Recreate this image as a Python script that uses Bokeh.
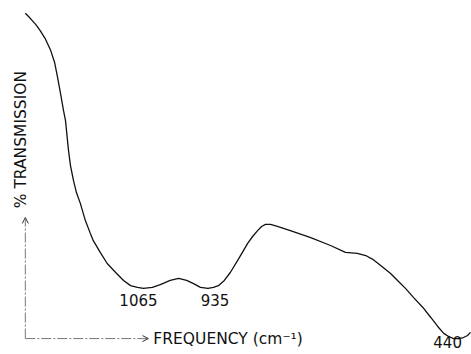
import numpy as np
from bokeh.plotting import figure
from bokeh.models import Range1d, Arrow, OpenHead, ColumnDataSource, Label
from bokeh.core.properties import value
from bokeh.embed import file_html
from bokeh.resources import INLINE

# Frequency (cm^-1) and % transmission (arbitrary scale)
freq = [1303, 1296, 1289, 1281, 1273, 1263, 1252, 1244, 1238, 1232, 1226, 1222,
        1216, 1212, 1206, 1200, 1192, 1182, 1172, 1166, 1152, 1138, 1121, 1105,
        1091, 1077, 1065, 1047, 1031, 1011, 994, 978, 964, 950, 935, 924, 914,
        902, 890, 873, 855, 845, 835, 827, 819, 809, 795, 769, 728, 688, 658,
        634, 617, 603, 587, 567, 553, 537, 521, 502, 486, 472, 460, 450, 440,
        430, 420, 412, 406]
trans = [98.6, 97.6, 96.5, 95.2, 93.6, 91.3, 87.9, 84.4, 80.1, 75.4, 70.5, 67.6,
         59.0, 54.6, 50.3, 46.8, 43.6, 38.7, 35.0, 32.9, 29.5, 26.3, 23.7, 21.4,
         19.9, 19.4, 19.1, 19.4, 20.2, 21.4, 22.0, 21.4, 20.5, 19.4, 19.1, 19.4,
         19.9, 21.4, 23.7, 27.7, 32.1, 34.1, 35.8, 37.0, 37.6, 37.6, 37.0, 35.8,
         33.8, 31.5, 29.5, 29.2, 28.6, 27.5, 25.7, 23.4, 21.4, 19.1, 16.5, 13.6,
         10.7, 8.1, 6.1, 5.2, 4.6, 4.6, 4.9, 5.5, 6.4]

peak_freq = [1065, 935, 440]
peak_labels = ["1065", "935", "440"]

x_title = "FREQUENCY (cm\u207b\u00b9)"
y_title = "% TRANSMISSION"

p = figure(width=471, height=354, output_backend="svg", toolbar_location=None,
           x_range=Range1d(1353, 404), y_range=Range1d(0, 102.3),
           min_border=0, min_border_left=0, min_border_right=0,
           min_border_top=0, min_border_bottom=0)
p.axis.visible = False
p.grid.visible = False
p.outline_line_color = None
p.background_fill_color = "white"
p.border_fill_color = "white"

p.line(freq, trans, line_color="#111111", line_width=1.3)

# peak labels under the minima
fr = np.array(freq)[::-1]
tr = np.array(trans)[::-1]
peak_t = [float(np.interp(f, fr, tr)) for f in peak_freq]
src = ColumnDataSource(dict(x=peak_freq, y=peak_t, t=peak_labels,
                            dx=[-5, 7, -6], dy=[12, 12, 3]))
p.text(x="x", y="y", text="t", x_offset="dx", y_offset="dy", source=src,
       text_align="center", text_baseline="middle",
       text_font=value("DejaVu Sans"), text_font_size="15px",
       text_color="#111111")

# axes arrows
ox, oy = 1303, 4.6
axis_col = "#777777"
p.add_layout(Arrow(x_start=ox, y_start=oy, x_end=ox, y_end=39.6,
                   line_color=axis_col, line_width=1, line_dash="10 2 2 2",
                   end=OpenHead(size=6, line_color="#333333", line_width=1)))
p.add_layout(Arrow(x_start=ox, y_start=oy, x_end=1055, y_end=oy,
                   line_color=axis_col, line_width=1, line_dash="10 2 2 2",
                   end=OpenHead(size=6, line_color="#333333", line_width=1)))

p.add_layout(Label(x=1045, y=oy, text=x_title, text_align="left",
                   text_baseline="middle", text_font="DejaVu Sans",
                   text_font_size="15.5px", text_color="#111111"))
p.add_layout(Label(x=1311, y=62.1, text=y_title, angle=np.pi / 2,
                   text_align="center", text_baseline="middle",
                   text_font="DejaVu Sans", text_font_size="15.5px",
                   text_color="#111111"))

open("out.html", "w").write(file_html(p, INLINE))
